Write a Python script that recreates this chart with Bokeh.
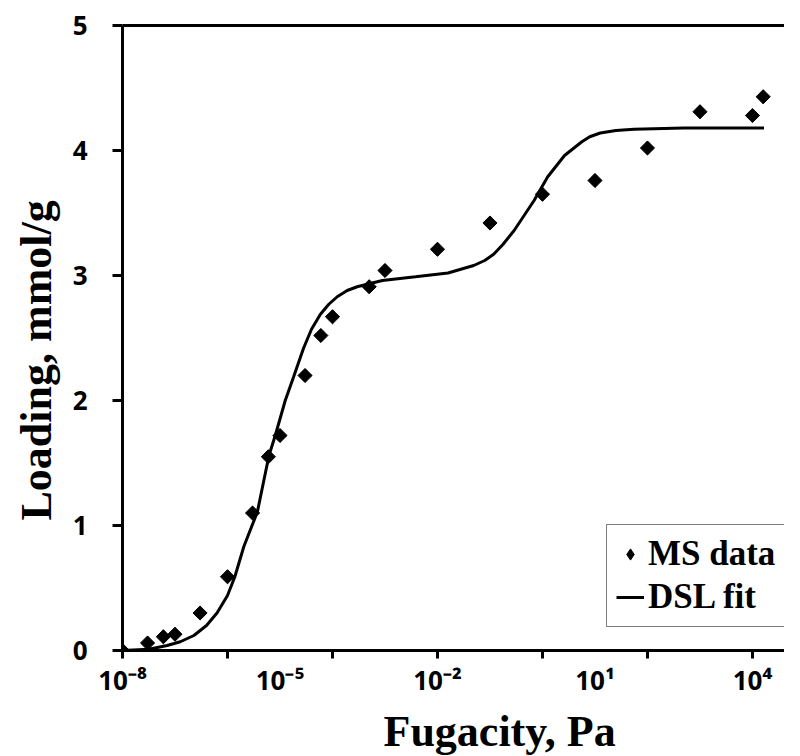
import numpy as np
from bokeh.plotting import figure
from bokeh.models import (Range1d, FixedTicker, LogAxis, Legend, LegendItem,
                          CustomJSTickFormatter, Title, ColumnDataSource)
from bokeh.embed import file_html
from bokeh.resources import INLINE

# ---- data ----
ms_fugacity = [1e-8, 3e-8, 6e-8, 1e-7, 3e-7, 1e-6, 3e-6, 6e-6, 1e-5, 3e-5, 6e-5,
               1e-4, 5e-4, 1e-3, 1e-2, 1e-1, 1.0, 10.0, 100.0, 1e3, 1e4, 1.6e4]
ms_loading = [0.0, 0.06, 0.11, 0.13, 0.30, 0.59, 1.10, 1.55, 1.72, 2.20, 2.52,
              2.67, 2.91, 3.04, 3.21, 3.42, 3.65, 3.76, 4.02, 4.31, 4.28, 4.43]

fit_log_fugacity = [-8.0, -7.5, -7.15, -6.9, -6.64, -6.4, -6.2, -6.0, -5.86, -5.69,
                    -5.43, -5.21, -5.09, -4.90, -4.74, -4.55, -4.4, -4.23, -4.07,
                    -3.91, -3.72, -3.53, -3.05, -2.42, -1.8, -1.31, -1.1, -0.93,
                    -0.75, -0.54, -0.16, 0.1, 0.42, 0.75, 0.9, 1.1, 1.4, 1.74, 2.69, 4.22]
fit_loading = [0.0, 0.01, 0.04, 0.07, 0.12, 0.20, 0.30, 0.44, 0.59, 0.83,
               1.11, 1.56, 1.72, 2.0, 2.19, 2.42, 2.57, 2.69, 2.77,
               2.83, 2.88, 2.91, 2.96, 2.99, 3.02, 3.08, 3.12, 3.17,
               3.25, 3.36, 3.6, 3.79, 3.96, 4.07, 4.11, 4.14, 4.16, 4.17, 4.18, 4.18]

x_label_ticks = [1e-8, 1e-5, 1e-2, 1e1, 1e4]
x_mark_ticks = [1e-8, 1e-6, 1e-4, 1e-2, 1e0, 1e2, 1e4]
y_ticks = [0, 1, 2, 3, 4, 5]

fit_fugacity = [10 ** v for v in fit_log_fugacity]

p = figure(frame_width=662, frame_height=625, x_axis_type="log", output_backend="svg",
           toolbar_location=None,
           x_range=Range1d(1e-8, 10 ** 4.61), y_range=Range1d(0, 5),
           min_border_left=122, min_border_top=25, min_border_right=0,
           min_border_bottom=98)
p.xgrid.visible = False
p.ygrid.visible = False
p.outline_line_color = None
p.background_fill_color = "white"
p.border_fill_color = "white"

r_line = p.line(fit_fugacity, fit_loading, line_color="black", line_width=3)
src = ColumnDataSource(dict(x=ms_fugacity, y=ms_loading))
# diamond-shaped renderer (used by the legend), covered by rotated squares
r_leg = p.scatter("x", "y", source=src, marker="diamond", size=13,
                  fill_color="black", line_color="black")
r_pts = p.scatter("x", "y", source=src, marker="square", angle=np.pi / 4,
                  size=10, fill_color="black", line_color="black")

# x axis
xa = p.xaxis[0]
xa.ticker = FixedTicker(ticks=x_label_ticks, minor_ticks=x_mark_ticks)
xa.formatter = CustomJSTickFormatter(code="""
const e = Math.round(Math.log10(tick));
const m = {"-":"⁻","0":"⁰","1":"¹","2":"²","3":"³","4":"⁴","5":"⁵","6":"⁶","7":"⁷","8":"⁸","9":"⁹"};
return "10" + String(e).split("").map(c => m[c]).join("");
""")
xa.axis_line_width = 3
xa.major_tick_out = 0
xa.major_tick_in = 0
xa.minor_tick_out = 8
xa.minor_tick_in = 0
xa.minor_tick_line_width = 3
xa.major_label_text_font = "Open Sans"
xa.major_label_text_font_style = "bold"
xa.major_label_text_font_size = "26px"
xa.major_label_text_color = "black"
xa.major_label_standoff = 3

# y axis
ya = p.yaxis[0]
ya.ticker = FixedTicker(ticks=y_ticks)
ya.axis_line_width = 3
ya.major_tick_out = 10
ya.major_tick_in = 0
ya.major_tick_line_width = 3
ya.minor_tick_out = 0
ya.minor_tick_in = 0
ya.major_label_text_font = "Open Sans"
ya.major_label_text_font_style = "bold"
ya.major_label_text_font_size = "26px"
ya.major_label_text_color = "black"
ya.major_label_standoff = 25

# top border line
top = LogAxis(ticker=FixedTicker(ticks=[]), axis_line_width=3,
              major_tick_out=0, major_tick_in=0, minor_tick_out=0, minor_tick_in=0)
p.add_layout(top, "above")

# y-axis title
p.add_layout(Title(text="Loading, mmol/g", align="left", offset=130,
                   text_font="Liberation Serif", text_font_style="bold",
                   text_font_size="44px", text_color="black", standoff=18), "left")

# x-axis title
p.add_layout(Title(text="Fugacity, Pa", align="left", offset=261,
                   text_font="Liberation Serif", text_font_style="bold",
                   text_font_size="44px", text_color="black", standoff=8), "below")

legend = Legend(items=[LegendItem(label="MS data", renderers=[r_leg]),
                       LegendItem(label="DSL fit", renderers=[r_line])],
                location=(484, 23), border_line_color="black", border_line_width=1.5,
                label_text_font="Liberation Serif", label_text_font_style="bold",
                label_text_font_size="35px", label_text_color="black",
                glyph_width=28, glyph_height=30,
                label_standoff=4, padding=9, spacing=3, margin=0,
                background_fill_color="white", background_fill_alpha=1)
p.add_layout(legend)

open("out.html", "w").write(file_html(p, INLINE))
